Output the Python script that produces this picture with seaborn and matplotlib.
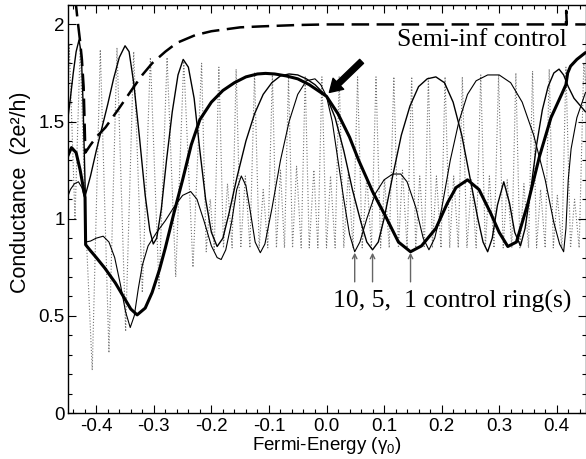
import numpy as np
import pandas as pd
import seaborn as sns
import matplotlib.pyplot as plt
import matplotlib.ticker as mtick

# ---- curves (Fermi energy, conductance) ----
# 1 control ring (thick)
x_ring1 = [-0.450, -0.443, -0.435, -0.428, -0.4195, -0.4185, -0.410, -0.400, -0.385, -0.367,
           -0.350, -0.340, -0.329, -0.315, -0.303, -0.290, -0.280, -0.265, -0.250, -0.235,
           -0.220, -0.200, -0.180, -0.160, -0.140, -0.120, -0.106, -0.090, -0.070, -0.050,
           -0.030, -0.015, 0.000, 0.020, 0.040, 0.056, 0.080, 0.103, 0.125, 0.146,
           0.165, 0.190, 0.210, 0.225, 0.245, 0.265, 0.285, 0.300, 0.315, 0.330,
           0.350, 0.370, 0.390, 0.410, 0.416, 0.419, 0.424, 0.435, 0.450]
g_ring1 = [1.32, 1.366, 1.34, 1.25, 1.11, 0.866, 0.835, 0.80, 0.745, 0.67,
           0.585, 0.535, 0.505, 0.54, 0.62, 0.74, 0.85, 1.03, 1.20, 1.38,
           1.51, 1.60, 1.66, 1.70, 1.73, 1.745, 1.748, 1.745, 1.735, 1.72,
           1.69, 1.66, 1.63, 1.54, 1.42, 1.30, 1.14, 1.01, 0.88, 0.83,
           0.86, 0.95, 1.08, 1.16, 1.20, 1.15, 1.03, 0.93, 0.857, 0.88,
           1.08, 1.32, 1.52, 1.65, 1.69, 1.75, 1.785, 1.82, 1.855]

# 5 control rings (thin)
x_ring5 = [-0.450, -0.445, -0.440, -0.435, -0.430, -0.426, -0.423, -0.4205, -0.419, -0.410,
           -0.400, -0.390, -0.380, -0.370, -0.360, -0.350, -0.343, -0.335, -0.325, -0.315,
           -0.307, -0.301, -0.295, -0.287, -0.278, -0.268, -0.258, -0.249, -0.240, -0.230,
           -0.220, -0.210, -0.200, -0.190, -0.180, -0.170, -0.155, -0.140, -0.125, -0.110,
           -0.095, -0.080, -0.065, -0.050, -0.035, -0.020, 0.000, 0.015, 0.030, 0.045,
           0.060, 0.070, 0.080, 0.090, 0.100, 0.115, 0.130, 0.145, 0.160, 0.175,
           0.190, 0.205, 0.220, 0.235, 0.250, 0.263, 0.272, 0.280, 0.288, 0.297,
           0.308, 0.318, 0.327, 0.337, 0.345, 0.355, 0.365, 0.375, 0.385, 0.395,
           0.404, 0.412, 0.420, 0.430, 0.450]
g_ring5 = [1.50, 1.62, 1.75, 1.86, 1.92, 1.85, 1.60, 1.30, 1.12, 1.22,
           1.35, 1.47, 1.59, 1.72, 1.83, 1.89, 1.86, 1.70, 1.42, 1.12,
           0.94, 0.87, 0.90, 1.05, 1.30, 1.55, 1.74, 1.82, 1.78, 1.62,
           1.35, 1.10, 0.93, 0.857, 0.90, 1.02, 1.22, 1.40, 1.54, 1.64,
           1.70, 1.735, 1.745, 1.74, 1.72, 1.69, 1.63, 1.52, 1.35, 1.15,
           0.98, 0.88, 0.84, 0.88, 1.00, 1.22, 1.43, 1.58, 1.68, 1.72,
           1.73, 1.70, 1.60, 1.43, 1.20, 1.00, 0.88, 0.83, 0.90, 1.07,
           1.19, 1.08, 0.93, 0.86, 0.95, 1.15, 1.38, 1.56, 1.68, 1.75,
           1.77, 1.74, 1.68, 1.62, 1.55]

# 10 control rings (thinnest)
x_ring10 = [-0.450, -0.445, -0.438, -0.431, -0.425, -0.4195, -0.4185, -0.410, -0.400, -0.388,
            -0.378, -0.368, -0.358, -0.349, -0.341, -0.334, -0.327, -0.320, -0.310, -0.295,
            -0.280, -0.265, -0.250, -0.236, -0.225, -0.213, -0.200, -0.190, -0.183, -0.175,
            -0.165, -0.156, -0.148, -0.140, -0.132, -0.124, -0.115, -0.107, -0.095, -0.080,
            -0.065, -0.050, -0.035, -0.020, -0.010, 0.000, 0.010, 0.020, 0.030, 0.040,
            0.049, 0.058, 0.070, 0.085, 0.100, 0.115, 0.129, 0.140, 0.155, 0.168,
            0.178, 0.188, 0.200, 0.215, 0.230, 0.245, 0.260, 0.280, 0.300, 0.320,
            0.340, 0.360, 0.380, 0.395, 0.405, 0.412, 0.416, 0.420, 0.425, 0.435,
            0.450]
g_ring10 = [1.11, 1.15, 1.18, 1.19, 1.16, 1.10, 0.88, 0.885, 0.90, 0.91,
            0.88, 0.80, 0.66, 0.52, 0.44, 0.50, 0.64, 0.76, 0.86, 0.93,
            0.99, 1.06, 1.12, 1.14, 1.10, 0.99, 0.86, 0.80, 0.79, 0.84,
            0.98, 1.15, 1.22, 1.17, 1.03, 0.88, 0.825, 0.87, 1.05, 1.30,
            1.50, 1.64, 1.71, 1.72, 1.69, 1.63, 1.50, 1.30, 1.10, 0.92,
            0.83, 0.88, 1.00, 1.13, 1.20, 1.23, 1.23, 1.19, 1.06, 0.90,
            0.84, 0.90, 1.05, 1.30, 1.50, 1.64, 1.71, 1.74, 1.74, 1.70,
            1.60, 1.43, 1.20, 0.98, 0.87, 0.83, 0.95, 1.20, 1.36, 1.52,
            1.65]

# many rings (dotted) - turning points
x_many = [-0.450, -0.447, -0.437, -0.428, -0.4195,
          -0.407, -0.393, -0.378, -0.364, -0.349, -0.335, -0.320, -0.306, -0.291, -0.277,
          -0.262, -0.248, -0.232, -0.217,
          -0.209, -0.202, -0.195, -0.187, -0.179, -0.172, -0.164, -0.157,
          -0.149, -0.141, -0.133, -0.125, -0.117, -0.110, -0.102, -0.094,
          -0.087, -0.080, -0.073, -0.066, -0.059, -0.052, -0.044, -0.037,
          -0.030, -0.022, -0.015, -0.008, 0.000, 0.007, 0.015, 0.022,
          0.030, 0.038, 0.046, 0.054, 0.062, 0.070, 0.078, 0.086,
          0.094, 0.101, 0.109, 0.117, 0.125, 0.132, 0.140, 0.148,
          0.155, 0.162, 0.170, 0.177, 0.184, 0.191, 0.199, 0.206,
          0.214, 0.221, 0.229, 0.236, 0.244, 0.252, 0.260, 0.268,
          0.276, 0.283, 0.291, 0.299, 0.307, 0.314, 0.322, 0.329,
          0.336, 0.343, 0.351, 0.358, 0.365, 0.372, 0.380, 0.387,
          0.394, 0.401, 0.409, 0.416, 0.424, 0.431, 0.439, 0.447, 0.450]
g_many = [1.60, 1.90, 1.00, 1.88, 1.05,
          0.22, 1.87, 0.31, 1.88, 0.42, 1.86, 0.62, 1.83, 0.64, 1.83,
          0.70, 1.81, 0.75, 1.80,
          0.83, 1.10, 0.84, 1.78, 0.85, 1.18, 0.85, 1.77,
          0.85, 1.22, 0.85, 1.75, 0.85, 1.15, 0.85, 1.74,
          0.85, 1.25, 0.85, 1.73, 0.85, 1.27, 0.85, 1.73,
          0.85, 1.25, 0.85, 1.73, 0.85, 1.22, 0.85, 1.73,
          0.85, 1.24, 0.85, 1.73, 0.85, 1.22, 0.85, 1.73,
          0.85, 1.20, 0.85, 1.73, 0.85, 1.25, 0.85, 1.73,
          0.85, 1.22, 0.85, 1.73, 0.85, 1.22, 0.85, 1.73,
          0.85, 1.22, 0.85, 1.73, 0.85, 1.20, 0.85, 1.74,
          0.85, 1.22, 0.85, 1.74, 0.85, 1.20, 0.85, 1.75,
          0.85, 1.18, 0.85, 1.76, 0.85, 1.15, 0.85, 1.77,
          0.85, 1.12, 0.85, 1.78, 0.85, 1.10, 0.85, 1.80, 1.70]

# semi-infinite control (dashed)
x_semi = [-0.445, -0.440, -0.436, -0.432, -0.428, -0.425, -0.422, -0.4205, -0.419, -0.410,
          -0.400, -0.384, -0.360, -0.338, -0.320, -0.303, -0.280, -0.260, -0.228, -0.200,
          -0.150, -0.113, -0.050, 0.000, 0.100, 0.200, 0.300, 0.4160, 0.4165, 0.4175,
          0.450]
g_semi = [2.45, 2.25, 2.12, 2.01, 1.91, 1.82, 1.68, 1.52, 1.34, 1.38,
          1.42, 1.47, 1.57, 1.665, 1.74, 1.80, 1.86, 1.905, 1.945, 1.965,
          1.985, 1.99, 1.997, 2.0, 2.0, 2.0, 2.0, 2.0, 2.07, 2.0,
          2.0]

x_ticks = [-0.4, -0.3, -0.2, -0.1, 0.0, 0.1, 0.2, 0.3, 0.4]
x_ticklabels = ['-0.4', '-0.3', '-0.2', '-0.1', '0.0', '0.1', '0.2', '0.3', '0.4']
y_ticks = [0, 0.5, 1, 1.5, 2]
y_ticklabels = ['0', '0.5', '1', '1.5', '2']

# minima marked by the small arrows (10, 5, 1 rings)
arrow_x = [0.049, 0.080, 0.146]

# ---- style ----
sns.set_theme(style='ticks')
plt.rcParams['font.family'] = ['Liberation Sans', 'DejaVu Sans']
plt.rcParams['axes.unicode_minus'] = False
plt.rcParams['mathtext.fontset'] = 'custom'
plt.rcParams['mathtext.rm'] = 'Liberation Sans'
plt.rcParams['mathtext.it'] = 'Liberation Sans:italic'
plt.rcParams['mathtext.default'] = 'regular'

fig = plt.figure(figsize=(5.86, 4.59), dpi=100)
ax = fig.add_axes([67.5 / 586, 46 / 459, 518 / 586, 408 / 459])

kw = dict(ax=ax, sort=False, estimator=None)
sns.lineplot(x=x_many, y=g_many, color='0.45', lw=0.8, linestyle=':', **kw)
sns.lineplot(x=x_semi, y=g_semi, color='black', lw=1.8, linestyle=(0, (7, 3)), **kw)
sns.lineplot(x=x_ring10, y=g_ring10, color='black', lw=0.8, **kw)
sns.lineplot(x=x_ring5, y=g_ring5, color='black', lw=1.0, **kw)
sns.lineplot(x=x_ring1, y=g_ring1, color='black', lw=2.2, **kw)

ax.set_xlim(-0.45, 0.45)
ax.set_ylim(0, 2.1)
ax.set_xticks(x_ticks)
ax.set_xticklabels(x_ticklabels)
ax.set_yticks(y_ticks)
ax.set_yticklabels(y_ticklabels)
ax.xaxis.set_minor_locator(mtick.MultipleLocator(0.02))
ax.yaxis.set_minor_locator(mtick.MultipleLocator(0.1))
ax.tick_params(which='both', direction='in', top=True, right=True,
               width=0.8, color='black', labelsize=13.5, labelcolor='black')
ax.tick_params(which='major', length=6)
ax.tick_params(which='minor', length=3.2)
ax.tick_params(axis='x', pad=3.5)
ax.tick_params(axis='y', pad=2)
for s in ax.spines.values():
    s.set_linewidth(1.0)
    s.set_color('black')

ax.set_xlabel('Fermi-Energy (γ$_0$)', fontsize=13.5, labelpad=0, color='black')
ax.set_ylabel('Conductance  (2e²/h)', fontsize=15.5, color='black')
ax.yaxis.set_label_coords(-0.0705, 0.54)

serif = ['Liberation Serif', 'DejaVu Serif']
ax.text(0.4174, 1.887, 'Semi-inf control', family=serif, fontsize=18.5,
        ha='right', va='baseline', color='black')
ax.text(0.426, 0.545, '10, 5,  1 control ring(s)', family=serif, fontsize=18.5,
        ha='right', va='baseline', color='black')

for xa in arrow_x:
    ax.annotate('', xy=(xa, 0.825), xytext=(xa, 0.675),
                arrowprops=dict(arrowstyle='->', color='0.4', lw=1.0, mutation_scale=8,
                                shrinkA=0, shrinkB=0))

ax.annotate('', xy=(0.005, 1.65), xytext=(0.061, 1.81),
            arrowprops=dict(facecolor='black', edgecolor='black', width=4,
                            headwidth=11, headlength=9, shrink=0))

fig.savefig('out.png', dpi=100)
